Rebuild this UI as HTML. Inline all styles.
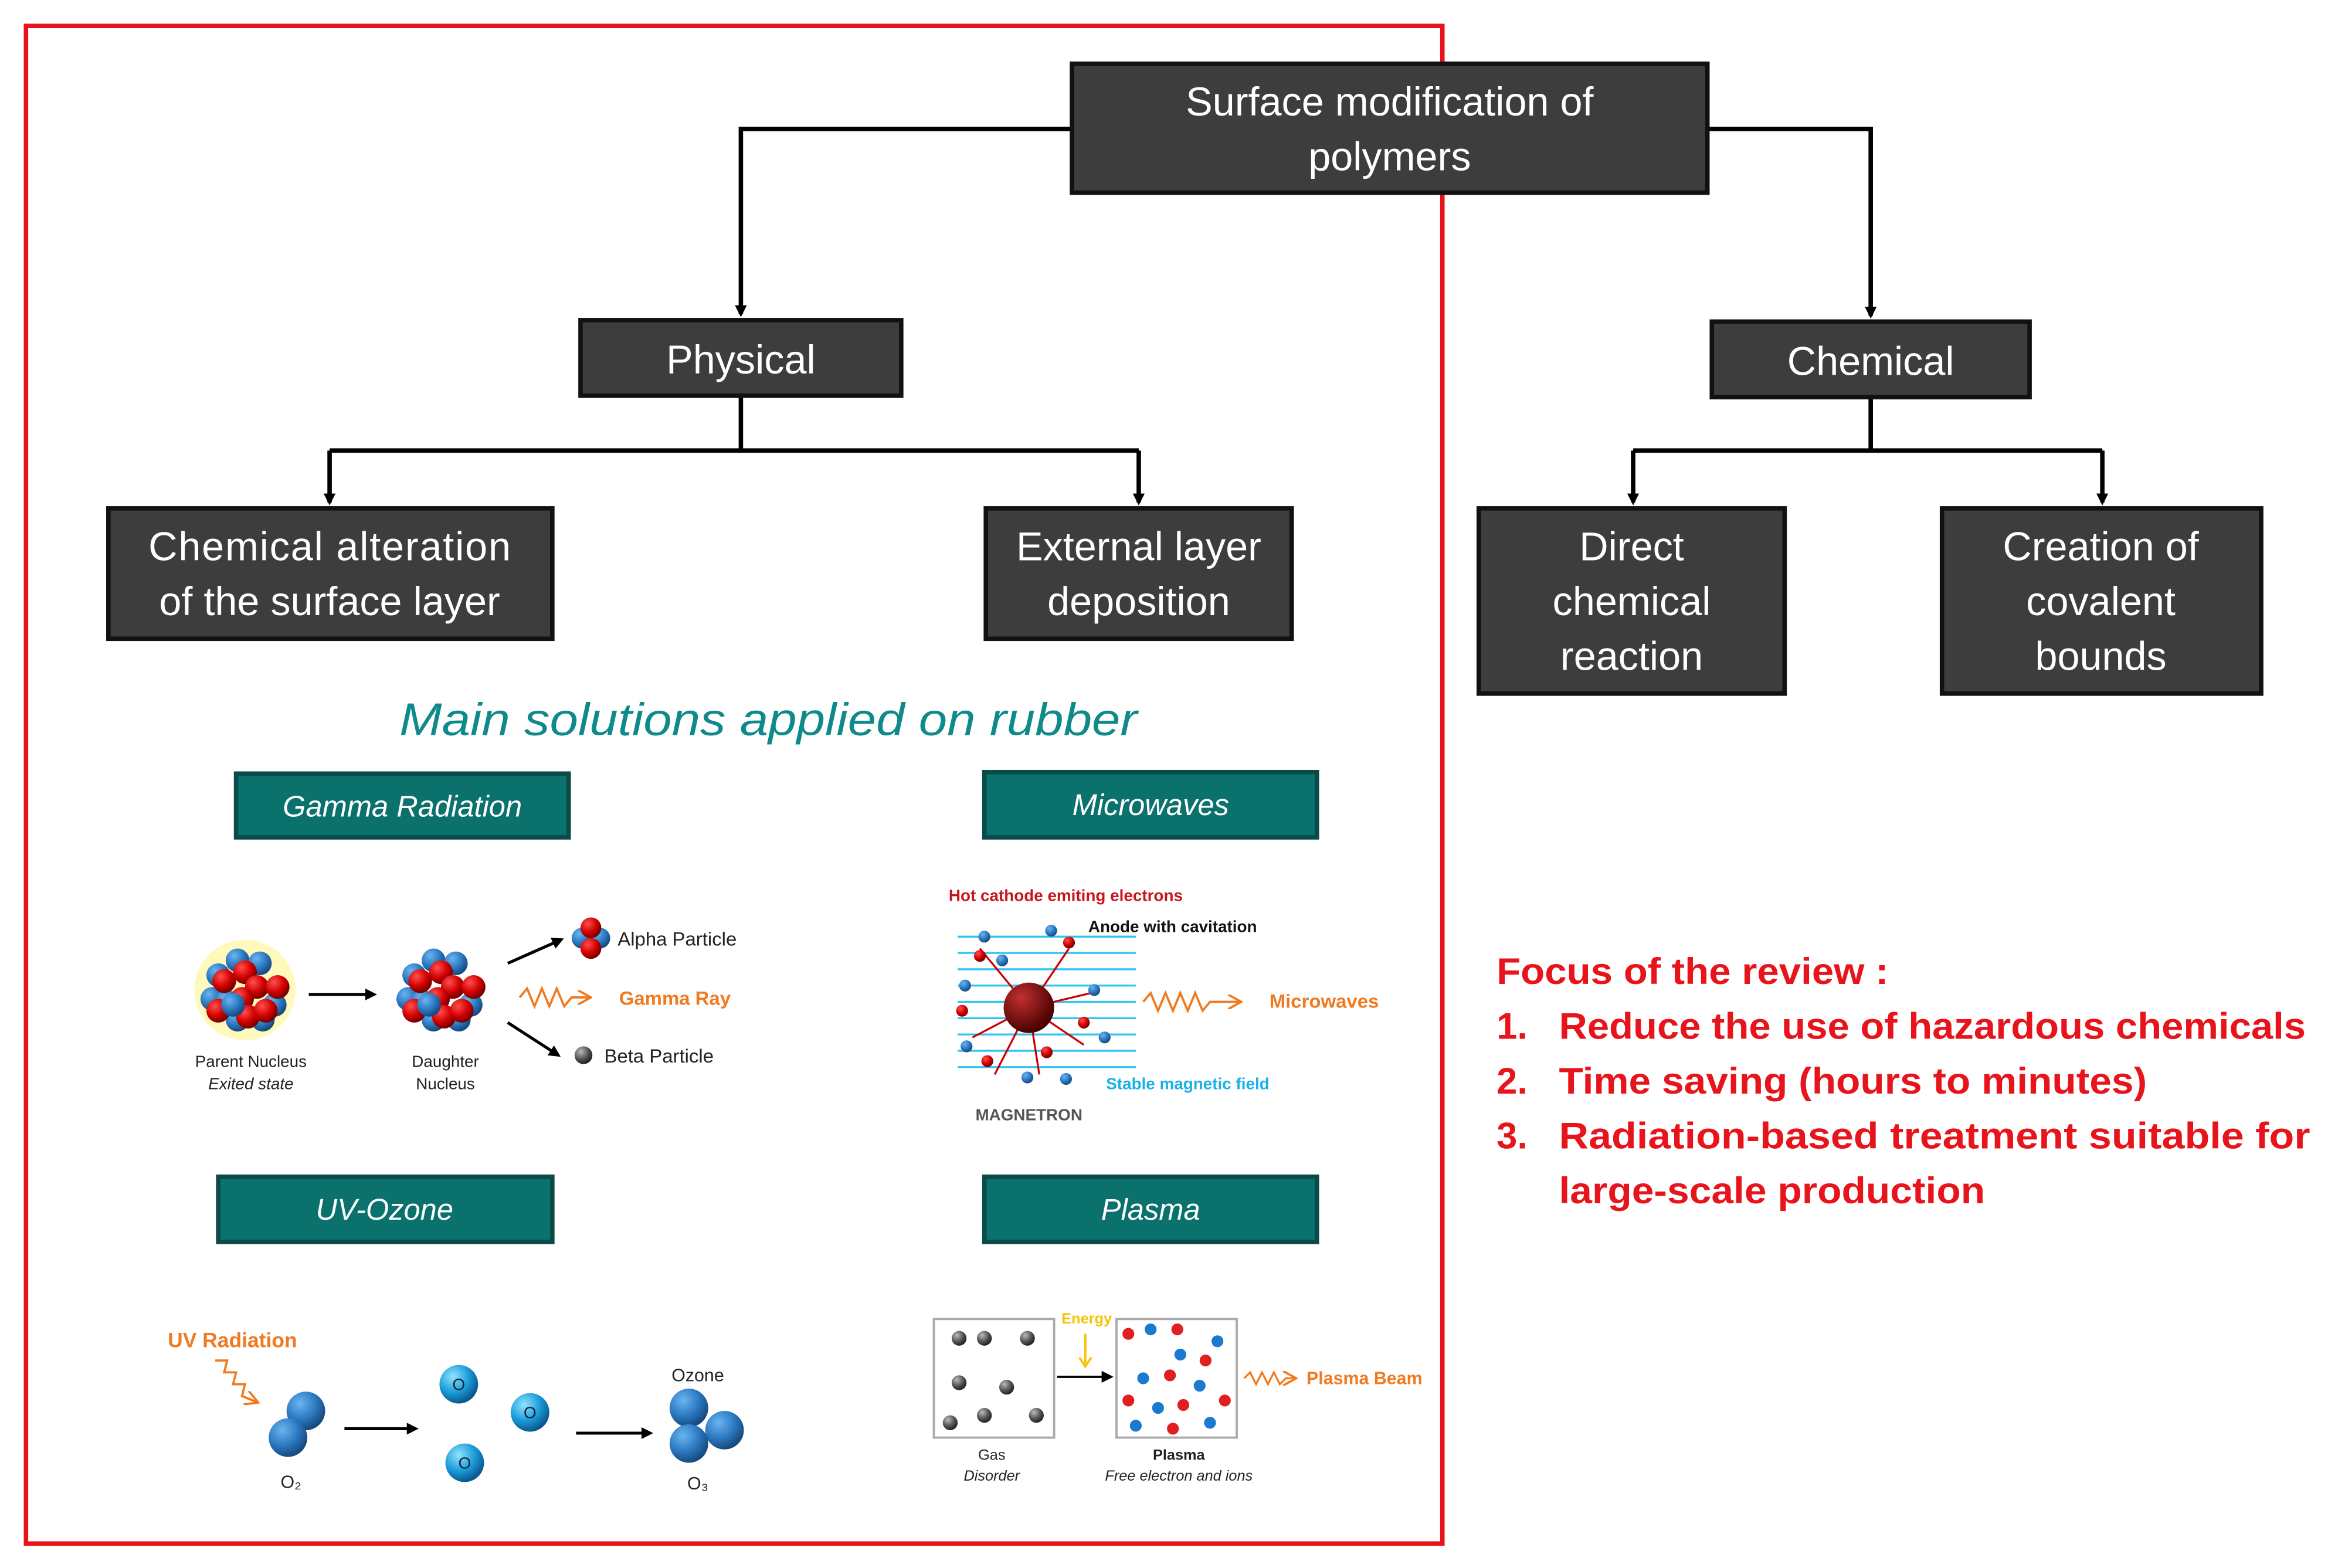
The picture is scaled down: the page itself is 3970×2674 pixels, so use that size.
<!DOCTYPE html>
<html><head><meta charset="utf-8"><style>
html,body{margin:0;padding:0;background:#fff;}
svg{display:block;}
text{font-family:"Liberation Sans",sans-serif;}
</style></head><body>
<svg width="3970" height="2674" viewBox="0 0 1568 1058" preserveAspectRatio="none" xmlns="http://www.w3.org/2000/svg">
<defs>
<marker id="a" markerWidth="8" markerHeight="8" refX="6" refY="4" orient="auto" markerUnits="userSpaceOnUse"><path d="M0,0 L8,4 L0,8 z" fill="#000"/></marker>
<marker id="ao" markerWidth="10" markerHeight="10" refX="8" refY="5" orient="auto" markerUnits="userSpaceOnUse"><path d="M0,0 L9,5 L0,10" fill="none" stroke="#f07a20" stroke-width="1.5"/></marker>
<radialGradient id="r" cx="35%" cy="30%" r="70%"><stop offset="0" stop-color="#ff5050"/><stop offset="0.6" stop-color="#d40000"/><stop offset="1" stop-color="#700"/></radialGradient>
<radialGradient id="b" cx="35%" cy="30%" r="70%"><stop offset="0" stop-color="#6ab4f0"/><stop offset="0.6" stop-color="#2a78c0"/><stop offset="1" stop-color="#184a80"/></radialGradient>
<radialGradient id="c" cx="35%" cy="30%" r="70%"><stop offset="0" stop-color="#8ee4ff"/><stop offset="0.6" stop-color="#1a9ad8"/><stop offset="1" stop-color="#0a5a90"/></radialGradient>
<radialGradient id="g" cx="35%" cy="30%" r="70%"><stop offset="0" stop-color="#bbb"/><stop offset="0.6" stop-color="#555"/><stop offset="1" stop-color="#222"/></radialGradient>
<radialGradient id="dr" cx="35%" cy="30%" r="70%"><stop offset="0" stop-color="#c03030"/><stop offset="1" stop-color="#4a0000"/></radialGradient>
<g id="nuc">
<circle cx="-18" cy="-10" r="8" fill="url(#b)"/><circle cx="-5" cy="-20" r="8" fill="url(#b)"/><circle cx="10" cy="-18" r="8" fill="url(#b)"/><circle cx="-22" cy="6" r="8" fill="url(#b)"/><circle cx="20" cy="10" r="8" fill="url(#b)"/><circle cx="-5" cy="20" r="8" fill="url(#b)"/><circle cx="12" cy="20" r="8" fill="url(#b)"/><circle cx="-12" cy="8" r="8" fill="url(#b)"/>
<circle cx="-14" cy="-6" r="8" fill="url(#r)"/><circle cx="0" cy="-12" r="8" fill="url(#r)"/><circle cx="8" cy="-2" r="8" fill="url(#r)"/><circle cx="22" cy="-2" r="8" fill="url(#r)"/><circle cx="-2" cy="6" r="8" fill="url(#r)"/><circle cx="-18" cy="14" r="8" fill="url(#r)"/><circle cx="2" cy="18" r="8" fill="url(#r)"/><circle cx="14" cy="14" r="8" fill="url(#r)"/><circle cx="-8" cy="10" r="8" fill="url(#b)"/>
</g>
</defs>

<rect x="17.5" y="17.5" width="954" height="1024" fill="none" stroke="#e8141c" stroke-width="3"/>

<g stroke="#000" stroke-width="3" fill="none">
<path d="M722,87 H499 V212" marker-end="url(#a)"/>
<path d="M1150,87 H1260 V213" marker-end="url(#a)"/>
<path d="M499,267 V304"/><path d="M222,304 H767"/>
<path d="M222,304 V339" marker-end="url(#a)"/><path d="M767,304 V339" marker-end="url(#a)"/>
<path d="M1260,268 V304"/><path d="M1100,304 H1416"/>
<path d="M1100,304 V339" marker-end="url(#a)"/><path d="M1416,304 V339" marker-end="url(#a)"/>
</g>

<g fill="#3d3d3d" stroke="#111" stroke-width="3">
<rect x="722" y="43" width="428" height="87"/>
<rect x="391" y="216" width="216" height="51"/>
<rect x="1153" y="217" width="214" height="51"/>
<rect x="73" y="343" width="299" height="88"/>
<rect x="664" y="343" width="206" height="88"/>
<rect x="996" y="343" width="206" height="125"/>
<rect x="1308" y="343" width="215" height="125"/>
</g>
<g fill="#fff" font-size="27" text-anchor="middle">
<text x="936" y="78">Surface modification of</text><text x="936" y="115">polymers</text>
<text x="499" y="252">Physical</text>
<text x="1260" y="253">Chemical</text>
<text x="222" y="378" textLength="244">Chemical alteration</text><text x="222" y="415">of the surface layer</text>
<text x="767" y="378">External layer</text><text x="767" y="415">deposition</text>
<text x="1099" y="378">Direct</text><text x="1099" y="415">chemical</text><text x="1099" y="452">reaction</text>
<text x="1415" y="378">Creation of</text><text x="1415" y="415">covalent</text><text x="1415" y="452">bounds</text>
</g>

<text x="269" y="496" font-size="31" font-style="italic" fill="#0f8a8a" textLength="497" lengthAdjust="spacingAndGlyphs">Main solutions applied on rubber</text>

<g fill="#0a716c" stroke="#0a4a48" stroke-width="3">
<rect x="159" y="522" width="224" height="43"/><rect x="663" y="521" width="224" height="44"/>
<rect x="147" y="794" width="225" height="44"/><rect x="663" y="794" width="224" height="44"/>
</g>
<g fill="#fff" font-size="20" font-style="italic" text-anchor="middle">
<text x="271" y="551">Gamma Radiation</text><text x="775" y="550">Microwaves</text>
<text x="259" y="823">UV-Ozone</text><text x="775" y="823">Plasma</text>
</g>

<g fill="#e8141c" font-size="25" font-weight="bold" lengthAdjust="spacingAndGlyphs">
<text x="1008" y="664" textLength="264" lengthAdjust="spacingAndGlyphs">Focus of the review :</text>
<text x="1008" y="701">1.</text><text x="1050" y="701" textLength="503" lengthAdjust="spacingAndGlyphs">Reduce the use of hazardous chemicals</text>
<text x="1008" y="738">2.</text><text x="1050" y="738" textLength="396" lengthAdjust="spacingAndGlyphs">Time saving (hours to minutes)</text>
<text x="1008" y="775">3.</text><text x="1050" y="775" textLength="506" lengthAdjust="spacingAndGlyphs">Radiation-based treatment suitable for</text>
<text x="1050" y="812" textLength="287" lengthAdjust="spacingAndGlyphs">large-scale production</text>
</g>

<circle cx="165" cy="668" r="34" fill="#fff7a0" opacity="0.7"/>
<use href="#nuc" x="165" y="668"/>
<use href="#nuc" x="297" y="668"/>
<g stroke="#000" stroke-width="2" fill="none">
<path d="M208,671 H252" marker-end="url(#a)"/>
<path d="M342,650 L378,634" marker-end="url(#a)"/>
<path d="M342,690 L376,712" marker-end="url(#a)"/>
</g>
<circle cx="392" cy="633" r="7" fill="url(#b)"/><circle cx="404" cy="633" r="7" fill="url(#b)"/>
<circle cx="398" cy="626" r="7" fill="url(#r)"/><circle cx="398" cy="640" r="7" fill="url(#r)"/>
<circle cx="393" cy="712" r="6" fill="url(#g)"/>
<path d="M350,673 l5,-6 l5,12 l5,-12 l5,12 l5,-12 l5,12 l5,-6 h12" fill="none" stroke="#f07a20" stroke-width="1.5" marker-end="url(#ao)"/>
<g font-size="13" fill="#222">
<text x="416" y="638">Alpha Particle</text><text x="407" y="717">Beta Particle</text>
<text x="417" y="678" fill="#f07a20" font-weight="bold">Gamma Ray</text>
</g>
<g font-size="11" fill="#222" text-anchor="middle">
<text x="169" y="720">Parent Nucleus</text><text x="169" y="735" font-style="italic">Exited state</text>
<text x="300" y="720">Daughter</text><text x="300" y="735">Nucleus</text>
</g>

<g stroke="#2ec4f0" stroke-width="1.3">
<path d="M645,632 H765 M645,643 H765 M645,654 H765 M645,665 H765 M645,676 H765 M645,687 H765 M645,698 H765 M645,709 H765 M645,720 H765"/>
</g>
<g stroke="#c00" stroke-width="1.3" fill="none">
<path d="M693,680 L660,640 M693,680 L720,640 M693,680 L655,700 M693,680 L730,705 M693,680 L700,725 M693,680 L670,725 M693,680 L735,670"/>
</g>
<circle cx="693" cy="680" r="17" fill="url(#dr)"/>
<g fill="url(#b)"><circle cx="663" cy="632" r="4"/><circle cx="708" cy="628" r="4"/><circle cx="650" cy="665" r="4"/><circle cx="737" cy="668" r="4"/><circle cx="651" cy="706" r="4"/><circle cx="692" cy="727" r="4"/><circle cx="718" cy="728" r="4"/><circle cx="744" cy="700" r="4"/><circle cx="675" cy="648" r="4"/></g>
<g fill="url(#r)"><circle cx="720" cy="636" r="4"/><circle cx="648" cy="682" r="4"/><circle cx="730" cy="690" r="4"/><circle cx="665" cy="716" r="4"/><circle cx="705" cy="710" r="4"/><circle cx="660" cy="645" r="4"/></g>
<path d="M770,676 l5,-6 l5,12 l5,-12 l5,12 l5,-12 l5,12 l5,-12 l5,12 l5,-6 h20" fill="none" stroke="#f07a20" stroke-width="1.5" marker-end="url(#ao)"/>
<g font-size="11" font-weight="bold">
<text x="639" y="608" fill="#c8141c">Hot cathode emiting electrons</text>
<text x="733" y="629" fill="#111">Anode with cavitation</text>
<text x="745" y="735" fill="#1ab0e8">Stable magnetic field</text>
<text x="657" y="756" fill="#555">MAGNETRON</text>
<text x="855" y="680" fill="#f07a20" font-size="13">Microwaves</text>
</g>

<text x="113" y="909" font-size="14" font-weight="bold" fill="#f07a20">UV Radiation</text>
<path d="M145,918 l8,0 l-2,8 l8,0 l-2,8 l8,0 l-2,8 l10,4" fill="none" stroke="#f07a20" stroke-width="1.5" marker-end="url(#ao)"/>
<circle cx="206" cy="952" r="13" fill="url(#b)"/><circle cx="194" cy="970" r="13" fill="url(#b)"/>
<g stroke="#000" stroke-width="2"><path d="M232,964 H280" marker-end="url(#a)"/><path d="M388,967 H438" marker-end="url(#a)"/></g>
<circle cx="309" cy="934" r="13" fill="url(#c)"/><circle cx="357" cy="953" r="13" fill="url(#c)"/><circle cx="313" cy="987" r="13" fill="url(#c)"/>
<g font-size="11" text-anchor="middle" fill="#123"><text x="309" y="938">O</text><text x="357" y="957">O</text><text x="313" y="991">O</text></g>
<circle cx="464" cy="950" r="13" fill="url(#b)"/><circle cx="488" cy="965" r="13" fill="url(#b)"/><circle cx="464" cy="974" r="13" fill="url(#b)"/>
<g font-size="12" fill="#222" text-anchor="middle"><text x="470" y="932">Ozone</text><text x="470" y="1005">O₃</text><text x="196" y="1004">O₂</text></g>

<rect x="629" y="890" width="81" height="80" fill="#fff" stroke="#aaa" stroke-width="1.5"/>
<rect x="752" y="890" width="81" height="80" fill="#fff" stroke="#aaa" stroke-width="1.5"/>
<g fill="url(#g)"><circle cx="646" cy="903" r="5"/><circle cx="663" cy="903" r="5"/><circle cx="692" cy="903" r="5"/><circle cx="646" cy="933" r="5"/><circle cx="678" cy="936" r="5"/><circle cx="663" cy="955" r="5"/><circle cx="698" cy="955" r="5"/><circle cx="640" cy="960" r="5"/></g>
<g fill="#1a7ad0"><circle cx="775" cy="897" r="4"/><circle cx="795" cy="914" r="4"/><circle cx="820" cy="905" r="4"/><circle cx="770" cy="930" r="4"/><circle cx="808" cy="935" r="4"/><circle cx="780" cy="950" r="4"/><circle cx="815" cy="960" r="4"/><circle cx="765" cy="962" r="4"/></g>
<g fill="#e02020"><circle cx="760" cy="900" r="4"/><circle cx="793" cy="897" r="4"/><circle cx="812" cy="918" r="4"/><circle cx="788" cy="928" r="4"/><circle cx="760" cy="945" r="4"/><circle cx="797" cy="948" r="4"/><circle cx="825" cy="945" r="4"/><circle cx="790" cy="964" r="4"/></g>
<path d="M712,929 H748" stroke="#000" stroke-width="1.5" marker-end="url(#a)"/>
<path d="M731,900 V920" stroke="#f5c400" stroke-width="1.5"/><path d="M727,916 L731,922 L735,916" fill="none" stroke="#f5c400" stroke-width="1.5"/>
<text x="715" y="893" font-size="10" font-weight="bold" fill="#f5c400">Energy</text>
<path d="M838,930 l4,-4 l4,8 l4,-8 l4,8 l4,-8 l4,8 l4,-4 h6" fill="none" stroke="#f07a20" stroke-width="1.3" marker-end="url(#ao)"/>
<text x="880" y="934" font-size="12" font-weight="bold" fill="#f07a20">Plasma Beam</text>
<g font-size="10" fill="#222" text-anchor="middle">
<text x="668" y="985">Gas</text><text x="668" y="999" font-style="italic">Disorder</text>
<text x="794" y="985" font-weight="bold">Plasma</text><text x="794" y="999" font-style="italic">Free electron and ions</text>
</g>
</svg>
</body></html>
